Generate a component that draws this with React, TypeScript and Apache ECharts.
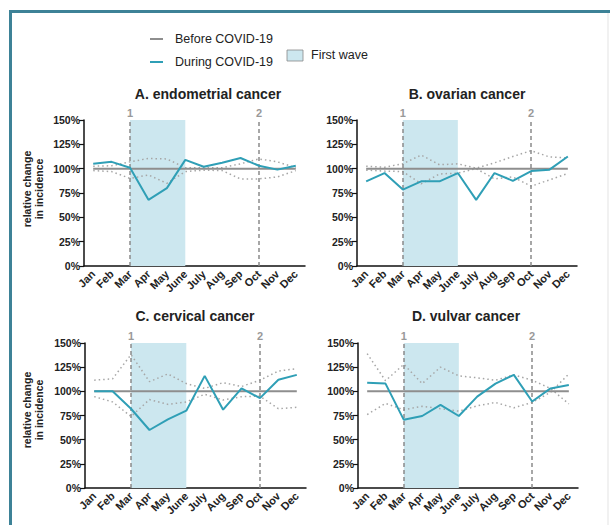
import React, { useEffect, useRef } from "react";
import * as echarts from "echarts";

const months = ["Jan", "Feb", "Mar", "Apr", "May", "June", "July", "Aug", "Sep", "Oct", "Nov", "Dec"];
const yTicks = [0, 25, 50, 75, 100, 125, 150];
const panelTitles = ["A. endometrial cancer", "B. ovarian cancer", "C. cervical cancer", "D. vulvar cancer"];
const markerMonths = ["Mar", "Oct"];
const markerLabels = ["1", "2"];
const firstWave = ["Mar", "June"];
const legendNames = ["Before COVID-19", "During COVID-19", "First wave"];

const beforeCovid = [100, 100, 100, 100, 100, 100, 100, 100, 100, 100, 100, 100];

const endometrialDuring = [105, 107, 101, 68, 80, 109, 102, 106, 111, 103, 99, 103];
const endometrialUpper = [102.5, 103, 107, 110.5, 110, 101, 101, 101, 105, 110, 107, 101];
const endometrialLower = [98, 97, 90, 93.5, 85, 97, 98.5, 98, 89.5, 89.5, 91.5, 98];

const ovarianDuring = [87, 95.5, 78.5, 87, 87, 95.5, 68, 95.5, 87.5, 97.5, 99, 112.5];
const ovarianUpper = [102.5, 101.5, 105, 114, 104, 105, 100.5, 106, 112.5, 118.5, 112, 111];
const ovarianLower = [98.5, 97.5, 97, 84.5, 94.5, 95.5, 100, 89.5, 91.5, 82, 88.5, 95];

const cervicalDuring = [100, 100, 82, 60, 71, 80, 116, 81, 103, 93, 112, 117];
const cervicalUpper = [111.5, 113, 138, 110, 118, 108, 103, 109, 105, 111.5, 121, 123.5];
const cervicalLower = [94.5, 89, 74, 91.5, 86.5, 89, 97, 91, 94.5, 95, 82, 83.5];

const vulvarDuring = [109, 108, 70.5, 74.5, 86, 74.5, 94.5, 108, 117, 89.5, 103, 106.5];
const vulvarUpper = [139, 111, 128, 108, 125, 116, 114, 111.5, 117, 111.5, 103, 87];
const vulvarLower = [76, 87.5, 81, 84.5, 82, 79.5, 85, 88.5, 83, 88.5, 99, 118];

const panelDuring = [endometrialDuring, ovarianDuring, cervicalDuring, vulvarDuring];
const panelUpper = [endometrialUpper, ovarianUpper, cervicalUpper, vulvarUpper];
const panelLower = [endometrialLower, ovarianLower, cervicalLower, vulvarLower];

const TEAL = "#2f9fb6";
const GRAY = "#8e8e8e";
const DOT = "#a6a6a6";
const SHADE = "#cce7ef";
const FONT = "'Liberation Sans', Arial, Helvetica, sans-serif";

const grids = [
  { left: 84, top: 120, width: 221, height: 146 },
  { left: 357, top: 120, width: 220, height: 146 },
  { left: 85, top: 343, width: 221, height: 145 },
  { left: 358, top: 343, width: 220, height: 145 },
];
const titlePos = [
  { x: 208, y: 94 },
  { x: 467, y: 94 },
  { x: 195, y: 316 },
  { x: 466, y: 316 },
];

export default function App() {
  const ref = useRef<HTMLDivElement>(null);
  useEffect(() => {
    if (!ref.current) return;
    const chart = echarts.init(ref.current, undefined, { renderer: "svg" });

    const xAxis: any[] = [];
    const yAxis: any[] = [];
    const series: any[] = [];
    grids.forEach((g, i) => {
      xAxis.push({
        type: "category",
        gridIndex: i,
        data: months,
        boundaryGap: true,
        axisLine: { lineStyle: { color: "#111", width: 1.5 } },
        axisTick: { alignWithLabel: true, length: 5, lineStyle: { color: "#111", width: 1.2 } },
        axisLabel: {
          rotate: 45,
          interval: 0,
          margin: 6,
          color: "#222",
          fontWeight: "bold",
          fontSize: 11,
          fontFamily: FONT,
        },
        splitLine: { show: false },
      });
      yAxis.push({
        type: "value",
        gridIndex: i,
        min: yTicks[0],
        max: yTicks[yTicks.length - 1],
        interval: 25,
        axisLine: { show: true, lineStyle: { color: "#111", width: 1.5 } },
        axisTick: { show: true, length: 5, lineStyle: { color: "#111", width: 1.2 } },
        axisLabel: {
          formatter: "{value}%",
          color: "#222",
          fontWeight: "bold",
          fontSize: 10.5,
          fontFamily: FONT,
          margin: 4,
        },
        splitLine: { show: false },
      });
      series.push({
        type: "line",
        xAxisIndex: i,
        yAxisIndex: i,
        data: [],
        z: 1,
        silent: true,
        markArea: {
          silent: true,
          itemStyle: { color: SHADE },
          data: [[{ xAxis: firstWave[0], yAxis: 150 }, { xAxis: firstWave[1], yAxis: 0 }]],
        },
      });
      series.push({
        type: "line",
        xAxisIndex: i,
        yAxisIndex: i,
        data: [],
        z: 2,
        silent: true,
        markLine: {
          silent: true,
          symbol: "none",
          lineStyle: { color: "#8a8a8a", type: [4, 3], width: 1.5 },
          label: {
            position: "end",
            distance: 2,
            color: "#999",
            fontWeight: "bold",
            fontSize: 11,
            fontFamily: FONT,
            formatter: (p: any) => markerLabels[markerMonths.indexOf(p.value)] ?? "",
          },
          data: markerMonths.map((m) => ({ xAxis: m })),
        },
      });
      series.push({
        name: "upper",
        type: "line",
        xAxisIndex: i,
        yAxisIndex: i,
        data: panelUpper[i],
        symbol: "none",
        z: 3,
        lineStyle: { color: DOT, width: 1.5, type: [1.5, 3] },
      });
      series.push({
        name: "lower",
        type: "line",
        xAxisIndex: i,
        yAxisIndex: i,
        data: panelLower[i],
        symbol: "none",
        z: 3,
        lineStyle: { color: DOT, width: 1.5, type: [1.5, 3] },
      });
      series.push({
        name: legendNames[0],
        type: "line",
        xAxisIndex: i,
        yAxisIndex: i,
        data: beforeCovid,
        symbol: "none",
        z: 4,
        lineStyle: { color: GRAY, width: 2 },
      });
      series.push({
        name: legendNames[1],
        type: "line",
        xAxisIndex: i,
        yAxisIndex: i,
        data: panelDuring[i],
        symbol: "none",
        z: 5,
        lineStyle: { color: TEAL, width: 2 },
      });
    });

    const graphic: any[] = [
      { type: "rect", shape: { x: 9, y: 10, width: 601, height: 3 }, style: { fill: "#3d8297" } },
      { type: "rect", shape: { x: 9, y: 10, width: 3, height: 515 }, style: { fill: "#3d8297" } },
      { type: "rect", shape: { x: 607.5, y: 13, width: 1, height: 512 }, style: { fill: "#e4e4e4" } },
      // legend
      { type: "line", shape: { x1: 150, y1: 39, x2: 163, y2: 39 }, style: { stroke: GRAY, lineWidth: 2 } },
      { type: "text", x: 175, y: 39, style: { text: legendNames[0], fill: "#222", font: `12.5px ${FONT}`, verticalAlign: "middle" } },
      { type: "line", shape: { x1: 150, y1: 62, x2: 163, y2: 62 }, style: { stroke: TEAL, lineWidth: 2 } },
      { type: "text", x: 175, y: 62, style: { text: legendNames[1], fill: "#222", font: `12.5px ${FONT}`, verticalAlign: "middle" } },
      { type: "rect", shape: { x: 287, y: 50, width: 16, height: 11 }, style: { fill: SHADE, stroke: "#888", lineWidth: 0.8 } },
      { type: "text", x: 311, y: 55, style: { text: legendNames[2], fill: "#222", font: `12.5px ${FONT}`, verticalAlign: "middle" } },
    ];
    titlePos.forEach((p, i) => {
      graphic.push({
        type: "text",
        x: p.x,
        y: p.y,
        style: {
          text: panelTitles[i],
          fill: "#222",
          font: `bold 14px ${FONT}`,
          align: "center",
          verticalAlign: "middle",
        },
      });
    });
    [189, 410].forEach((cy) => {
      graphic.push({
        type: "text",
        x: 33,
        y: cy,
        rotation: Math.PI / 2,
        style: {
          text: "relative change\nin incidence",
          fill: "#222",
          font: `bold 10.5px ${FONT}`,
          lineHeight: 11.5,
          align: "center",
          verticalAlign: "middle",
        },
      });
    });

    chart.setOption({
      animation: false,
      backgroundColor: "#fff",
      grid: grids.map((g) => ({ ...g, containLabel: false })),
      xAxis,
      yAxis,
      series,
      graphic,
    });
    return () => chart.dispose();
  }, []);
  return (
    <div
      ref={ref}
      style={{ position: "fixed", left: 0, top: 0, width: 610, height: 525, background: "#fff" }}
    />
  );
}
